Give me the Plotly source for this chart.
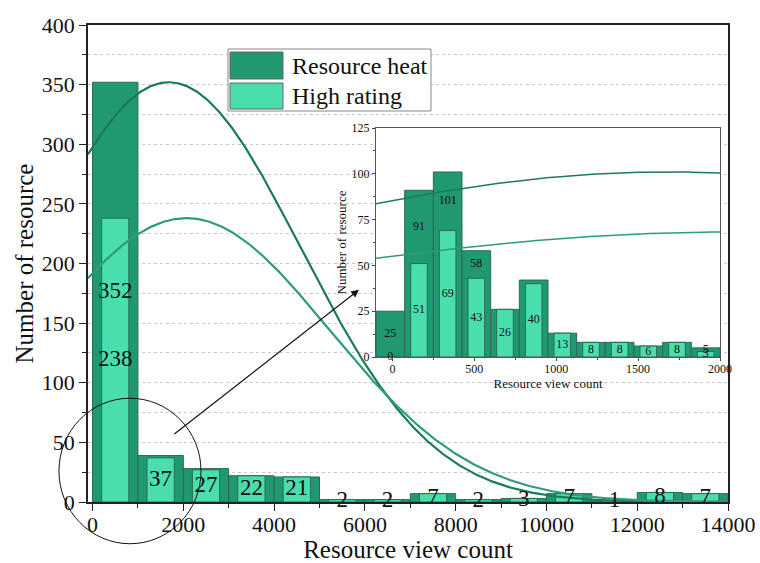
import numpy as np
import plotly.graph_objects as go

# ---- Full range histogram: 1000-view bins from 0 to 14000 ----
bin_width = 1000
bin_starts = [0, 1000, 2000, 3000, 4000, 5000, 6000, 7000, 8000, 9000, 10000, 11000, 12000, 13000]
heat_counts = [352, 39, 28, 22, 21, 2, 2, 7, 2, 3, 7, 1, 8, 7]
rating_counts = [238, 37, 27, 22, 21, 2, 2, 7, 2, 3, 7, 1, 8, 7]

# ---- Zoomed histogram: 175-view bins from -100 to 2000 ----
inset_bin_width = 175
inset_bin_starts = [-100, 75, 250, 425, 600, 775, 950, 1125, 1300, 1475, 1650, 1825]
inset_heat_counts = [25, 91, 101, 58, 26, 42, 13, 8, 8, 6, 8, 5]
inset_rating_counts = [0, 51, 69, 43, 26, 40, 13, 8, 8, 6, 8, 3]

# ---- Normal distribution curves fitted to the two groups ----
heat_fit = {"peak": 352, "mean": 1680, "sd": 2900}
rating_fit = {"peak": 238, "mean": 2070, "sd": 3150}
inset_curve_scale = 0.287

# ---- Styling ----
FONT = "Liberation Serif"
DARK = "#209872"
LIGHT = "#4adeae"
EDGE = "#2b6a55"
HEAT_LINE = "#1c7a5b"
RATING_LINE = "#2e9c7c"
GRID = "#c8c8c8"

W, H = 760, 563
M = dict(l=88, r=32, t=25, b=61)
PW, PH = W - M["l"] - M["r"], H - M["t"] - M["b"]

X_RANGE = [-100, 14000]
Y_RANGE = [0, 400]


def px_to_paper(xp, yp):
    return (xp - M["l"]) / PW, (H - M["b"] - yp) / PH


def data_to_paper(x, y):
    return ((x - X_RANGE[0]) / (X_RANGE[1] - X_RANGE[0]),
            (y - Y_RANGE[0]) / (Y_RANGE[1] - Y_RANGE[0]))


def normal_curve(xs, fit, scale=1.0):
    return scale * fit["peak"] * np.exp(-((xs - fit["mean"]) ** 2) / (2 * fit["sd"] ** 2))


centers = [s + bin_width / 2 for s in bin_starts]
inset_centers = [s + inset_bin_width / 2 for s in inset_bin_starts]

fig = go.Figure()

# Main histogram bars
fig.add_trace(go.Bar(x=centers, y=heat_counts, width=bin_width, name="Resource heat",
                     marker=dict(color=DARK, line=dict(color=EDGE, width=1)),
                     xaxis="x", yaxis="y"))
fig.add_trace(go.Bar(x=centers, y=rating_counts, width=bin_width * 0.6, name="High rating",
                     marker=dict(color=LIGHT, line=dict(color=EDGE, width=1)),
                     xaxis="x", yaxis="y"))

# Fitted curves
xs = np.linspace(X_RANGE[0], X_RANGE[1], 500)
fig.add_trace(go.Scatter(x=xs, y=normal_curve(xs, heat_fit), mode="lines",
                         line=dict(color=HEAT_LINE, width=2.2), xaxis="x", yaxis="y"))
fig.add_trace(go.Scatter(x=xs, y=normal_curve(xs, rating_fit), mode="lines",
                         line=dict(color=RATING_LINE, width=2.2), xaxis="x", yaxis="y"))

# Value labels: heat labels only where the heat bar stands clear of the rating bar
heat_lbl = [(c, h) for c, h, r in zip(centers, heat_counts, rating_counts) if h > 1.1 * r]
fig.add_trace(go.Scatter(x=[c for c, _ in heat_lbl], y=[h / 2 for _, h in heat_lbl],
                         text=[str(h) for _, h in heat_lbl], mode="text",
                         textfont=dict(family=FONT, size=23, color="#111"),
                         cliponaxis=False, xaxis="x", yaxis="y"))
fig.add_trace(go.Scatter(x=centers, y=[r / 2 for r in rating_counts],
                         text=[str(r) for r in rating_counts], mode="text",
                         textfont=dict(family=FONT, size=23, color="#111"),
                         cliponaxis=False, xaxis="x", yaxis="y"))

# Inset histogram bars
fig.add_trace(go.Bar(x=inset_centers, y=inset_heat_counts, width=inset_bin_width,
                     marker=dict(color=DARK, line=dict(color=EDGE, width=1)),
                     xaxis="x2", yaxis="y2"))
fig.add_trace(go.Bar(x=inset_centers, y=inset_rating_counts, width=inset_bin_width * 0.58,
                     marker=dict(color=LIGHT, line=dict(color=EDGE, width=1)),
                     xaxis="x2", yaxis="y2"))

xs2 = np.linspace(-100, 2000, 200)
fig.add_trace(go.Scatter(x=xs2, y=normal_curve(xs2, heat_fit, inset_curve_scale), mode="lines",
                         line=dict(color=HEAT_LINE, width=1.5), xaxis="x2", yaxis="y2"))
fig.add_trace(go.Scatter(x=xs2, y=normal_curve(xs2, rating_fit, inset_curve_scale), mode="lines",
                         line=dict(color=RATING_LINE, width=1.5), xaxis="x2", yaxis="y2"))

inset_heat_lbl = [(c, h, r) for c, h, r in zip(inset_centers, inset_heat_counts, inset_rating_counts)
                  if h > 1.1 * r]
fig.add_trace(go.Scatter(x=[c for c, _, _ in inset_heat_lbl],
                         y=[(h + r) / 2 for _, h, r in inset_heat_lbl],
                         text=[str(h) for _, h, _ in inset_heat_lbl], mode="text",
                         textfont=dict(family=FONT, size=12, color="#111"),
                         cliponaxis=False, xaxis="x2", yaxis="y2"))
fig.add_trace(go.Scatter(x=inset_centers, y=[r / 2 for r in inset_rating_counts],
                         text=[str(r) for r in inset_rating_counts], mode="text",
                         textfont=dict(family=FONT, size=12, color="#111"),
                         cliponaxis=False, xaxis="x2", yaxis="y2"))

# Inset placement in pixels
ix0, iy1 = px_to_paper(376, 128)
ix1, iy0 = px_to_paper(720, 357)

axis_common = dict(showline=True, mirror=True, zeroline=False, ticks="outside",
                   automargin=False, tickformat="d")

fig.update_layout(
    width=W, height=H, margin=M,
    paper_bgcolor="white", plot_bgcolor="white",
    barmode="overlay", showlegend=False,
    font=dict(family=FONT, color="#111"),
    xaxis=dict(**axis_common, domain=[0, 1], range=X_RANGE, tick0=0, dtick=2000,
               ticklen=7, tickwidth=1.2, tickcolor="#222", ticklabelstandoff=-5,
               linecolor="#222", linewidth=1.5, showgrid=False,
               tickfont=dict(size=22),
               minor=dict(dtick=1000, tick0=0, ticks="outside", ticklen=4, tickcolor="#222"),
               title=dict(text="Resource view count", font=dict(size=25), standoff=4)),
    yaxis=dict(**axis_common, domain=[0, 1], range=Y_RANGE, tick0=0, dtick=50,
               ticklen=7, tickwidth=1.2, tickcolor="#222",
               linecolor="#222", linewidth=1.5,
               showgrid=True, gridcolor=GRID, griddash="3px,3px", gridwidth=1,
               tickfont=dict(size=22),
               minor=dict(dtick=25, tick0=0, ticks="outside", ticklen=4, tickcolor="#222",
                          showgrid=True, gridcolor=GRID, griddash="3px,3px", gridwidth=1),
               title=dict(text="Number of resource", font=dict(size=25), standoff=1)),
    xaxis2=dict(**axis_common, domain=[ix0, ix1], anchor="y2", range=[-100, 2000],
                tick0=0, dtick=500, ticklen=3, tickcolor="#444", ticklabelstandoff=-2,
                linecolor="#555", linewidth=1, showgrid=False,
                tickfont=dict(size=12),
                minor=dict(dtick=250, tick0=0, ticks="outside", ticklen=2, tickcolor="#444"),
                title=dict(text="Resource view count", font=dict(size=13), standoff=0)),
    yaxis2=dict(**axis_common, domain=[iy0, iy1], anchor="x2", range=[0, 125],
                tick0=0, dtick=25, ticklen=3, tickcolor="#444",
                linecolor="#555", linewidth=1, showgrid=False,
                tickfont=dict(size=12),
                minor=dict(dtick=12.5, tick0=0, ticks="outside", ticklen=2, tickcolor="#444"),
                title=dict(text="Number of resource", font=dict(size=13), standoff=2)),
)

# Legend box drawn with shapes so the swatches can be large
shapes = []
lx0, ly1 = px_to_paper(228, 49)
lx1, ly0 = px_to_paper(431, 111)
shapes.append(dict(type="rect", xref="paper", yref="paper", x0=lx0, x1=lx1, y0=ly0, y1=ly1,
                   fillcolor="white", line=dict(color="#888", width=1), layer="above"))
for (top, bot), col, label in [((52, 79), DARK, "Resource heat"), ((83, 109), LIGHT, "High rating")]:
    sx0, sy1 = px_to_paper(230, top)
    sx1, sy0 = px_to_paper(283, bot)
    shapes.append(dict(type="rect", xref="paper", yref="paper", x0=sx0, x1=sx1, y0=sy0, y1=sy1,
                       fillcolor=col, line=dict(color="#666", width=1), layer="above"))
    tx, ty = px_to_paper(290, (top + bot) / 2)
    fig.add_annotation(x=tx, y=ty, xref="paper", yref="paper", text=label, showarrow=False,
                       xanchor="left", yanchor="middle", font=dict(family=FONT, size=24, color="#111"))

# Circle around the zoomed region and arrow pointing to the inset
cx0, cy0 = data_to_paper(-740, -35)
cx1, cy1 = data_to_paper(2390, 87)
shapes.append(dict(type="circle", xref="paper", yref="paper", x0=cx0, x1=cx1, y0=cy0, y1=cy1,
                   line=dict(color="#111", width=1), layer="above"))
fig.update_layout(shapes=shapes)

fig.add_annotation(x=5870, y=178, ax=1770, ay=56, xref="x", yref="y", axref="x", ayref="y",
                   showarrow=True, arrowhead=2, arrowsize=1.3, arrowwidth=1.2,
                   arrowcolor="#111", text="")

fig.write_html("out.html")
